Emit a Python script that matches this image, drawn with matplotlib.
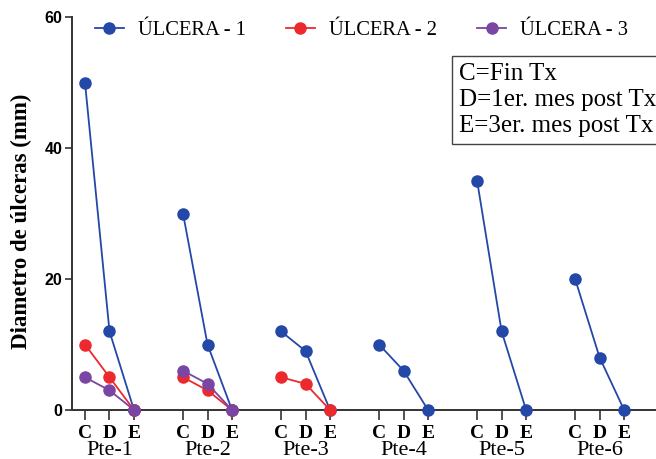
import numpy as np
import matplotlib
matplotlib.use('Agg')
import matplotlib.pyplot as plt
from matplotlib import rcParams

rcParams['font.family'] = 'Liberation Serif'
rcParams['xtick.direction'] = 'out'
rcParams['ytick.direction'] = 'out'

#%% data
patients = ['Pte-1', 'Pte-2', 'Pte-3', 'Pte-4', 'Pte-5', 'Pte-6']
stages = ['C', 'D', 'E']
box_lines = ['C=Fin Tx', 'D=1er. mes post Tx', 'E=3er. mes post Tx']

ulcera1 = [[50, 12, 0], [30, 10, 0], [12, 9, 0], [10, 6, 0], [35, 12, 0], [20, 8, 0]]
ulcera2 = [[10, 5, 0], [5, 3, 0], [5, 4, 0]]
ulcera3 = [[5, 3, 0], [6, 4, 0]]

series = [('ÚLCERA - 1', ulcera1, '#2448a8'),
          ('ÚLCERA - 2', ulcera2, '#ec2a2e'),
          ('ÚLCERA - 3', ulcera3, '#7a45a3')]

#%%
fig = plt.figure(figsize=(6.56, 4.59), dpi=100)
ax = fig.add_axes([72/656, 1-410/459, 1-72/656, (410-17)/459])

gap = 4
handles = []
for name, data, col in series:
    for ip, vals in enumerate(data):
        x = ip*gap + np.arange(len(vals))
        ln, = ax.plot(x, vals, color=col, lw=1.3, marker='o', ms=8,
                      clip_on=False, zorder=3)
    handles.append(ln)

xt = np.concatenate([ip*gap + np.arange(3) for ip in range(len(patients))])
xl = stages*len(patients)
ax.set_xticks(xt)
ax.set_xticklabels(xl, fontsize=14, fontweight='bold')
ax.set_xlim(-0.53, 23.3)
ax.set_ylim(0, 60)
ax.set_yticks([0, 20, 40, 60])
ax.set_yticklabels(['0', '20', '40', '60'], family='Liberation Sans',
                   fontsize=11.5, fontweight='bold')
ax.tick_params(axis='x', length=7, width=1.2, color='#333333', pad=4)
ax.tick_params(axis='y', length=5, width=1.2, color='#333333', pad=2)

for s in ['top', 'right']:
    ax.spines[s].set_visible(False)
for s in ['left', 'bottom']:
    ax.spines[s].set_linewidth(1.4)
    ax.spines[s].set_color('#333333')

for ip, p in enumerate(patients):
    ax.text(ip*gap + 1, -0.102, p, transform=ax.get_xaxis_transform(),
            ha='center', va='center', fontsize=16)

ax.set_ylabel('Diametro de úlceras (mm)', fontsize=16.5, fontweight='bold')
ax.yaxis.set_label_coords(-0.068, 0.48)

ax.legend(handles, [s[0] for s in series], ncol=3, frameon=False,
          loc='center left', bbox_to_anchor=(0.025, 0.965), fontsize=14.8,
          handlelength=1.4, columnspacing=1.95, handletextpad=0.7,
          borderaxespad=0)

fig.text(459/656, 1-100/459, '\n'.join(box_lines), fontsize=18,
         ha='left', va='center', linespacing=1.22,
         bbox=dict(boxstyle='square,pad=0.3', fc='white', ec='#444444', lw=1))

fig.savefig('out.png', dpi=100)
